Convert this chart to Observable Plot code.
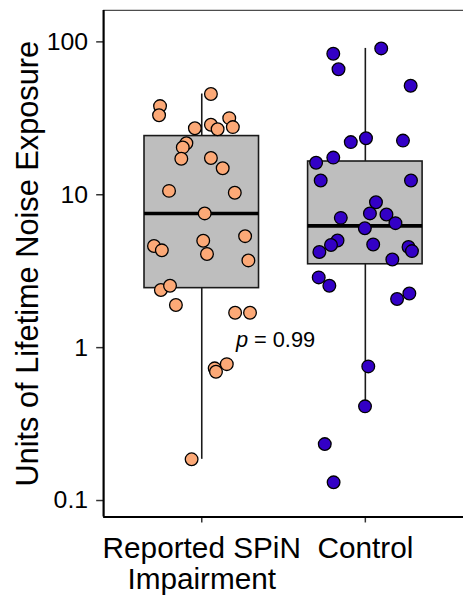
<!DOCTYPE html>
<html><head><meta charset="utf-8">
<script src="https://cdn.jsdelivr.net/npm/d3@7"></script>
<script src="https://cdn.jsdelivr.net/npm/@observablehq/plot@0.6"></script>
<style>
html,body{margin:0;padding:0;background:#fff;overflow:hidden;width:463px;height:597px}
#chart svg{display:block;font-family:"Liberation Sans",Arial,sans-serif;overflow:visible}
g[aria-label="y-axis label"]{font-size:31px}
</style></head><body><div id="chart"></div>
<script>
// categories
const groups = ["Reported SPiN\nImpairment", "Control"];
const groupColors = ["#FCA977", "#3300C6"];

// individual values (jitter offset in category units, value)
const reportedValues = [45.6, 38.0, 33.1, 31.7, 27.7, 27.2, 28.7, 26.8, 21.7, 20.4, 17.2, 17.4, 14.9, 10.6, 10.3, 7.55,
  4.62, 4.33, 5.00, 4.10, 5.36, 3.72, 2.38, 2.54, 1.90, 1.69, 1.69, 0.732, 0.695, 0.780, 0.186];
const reportedJitter = [0.056, -0.255, -0.261, 0.168, 0.190, -0.042, 0.056, 0.097, -0.094, -0.116, -0.125, 0.056, 0.128, -0.200, 0.202, 0.018,
  -0.292, -0.244, 0.009, 0.032, 0.265, 0.285, -0.250, -0.194, -0.158, 0.204, 0.295, 0.079, 0.087, 0.153, -0.062];
const controlValues = [83.6, 66.2, 90.6, 51.6, 22.1, 23.4, 22.6, 16.2, 17.5, 12.4, 12.4, 8.93, 7.06, 7.55, 7.43, 6.52,
  6.04, 5.02, 4.69, 4.22, 4.73, 4.55, 4.28, 3.77, 2.88, 2.54, 2.26, 2.08, 0.754, 0.413, 0.234, 0.1315];
const controlJitter = [-0.196, -0.164, 0.097, 0.277, -0.089, 0.004, 0.230, -0.301, -0.196, -0.273, 0.279, 0.065, -0.150, 0.028, 0.129, 0.184,
  -0.003, -0.170, -0.210, -0.281, 0.048, 0.264, 0.285, 0.165, -0.285, -0.220, 0.269, 0.194, 0.018, -0.002, -0.248, -0.194];

// box statistics per group
const boxLower = [0.186, 0.413];
const boxQ1 = [2.45, 3.51];
const boxMedian = [7.55, 6.26];
const boxQ3 = [24.2, 16.5];
const boxUpper = [45.6, 90.6];

// axis
const yTicks = [0.1, 1, 10, 100];
const yDomain = [0.078, 160.6];
const xDomain = [0.4, 2.6];
const yTitle = "Units of Lifetime Noise Exposure";
const pAnnotation = [{x: 1.21, y: 1.13, p: "p", rest: "= 0.99"}];

const points = [
  ...reportedValues.map((v, i) => ({g: 0, x: 1 + reportedJitter[i], v})),
  ...controlValues.map((v, i) => ({g: 1, x: 2 + controlJitter[i], v}))
];
const boxes = groups.map((name, i) => ({i: i + 1, name, lo: boxLower[i], q1: boxQ1[i], med: boxMedian[i], q3: boxQ3[i], hi: boxUpper[i]}));
const halfW = 0.35;

const chart = Plot.plot({
  width: 467, height: 597,
  marginLeft: 104, marginRight: 0, marginTop: 10, marginBottom: 76,
  style: {background: "#fff", fontFamily: "Liberation Sans, Arial, sans-serif", color: "#000"},
  x: {type: "linear", domain: xDomain},
  y: {type: "log", domain: yDomain},
  marks: [
    Plot.ruleY([yDomain[1]], {stroke: "#4d4d4d", strokeWidth: 1.3}),
    Plot.rect(boxes, {x1: d => d.i - halfW, x2: d => d.i + halfW, y1: "q1", y2: "q3", fill: "#bebebe", stroke: "#1a1a1a", strokeWidth: 1.6}),
    Plot.ruleX(boxes, {x: "i", y1: "q3", y2: "hi", stroke: "#1a1a1a", strokeWidth: 1.6}),
    Plot.ruleX(boxes, {x: "i", y1: "lo", y2: "q1", stroke: "#1a1a1a", strokeWidth: 1.6}),
    Plot.ruleY(boxes, {y: "med", x1: d => d.i - halfW, x2: d => d.i + halfW, stroke: "#000", strokeWidth: 3.6}),
    Plot.dot(points, {x: "x", y: "v", r: 6.4, fill: d => groupColors[d.g], stroke: "#000", strokeWidth: 1.3}),
    Plot.axisY({ticks: yTicks, tickFormat: d => String(d), tickSize: 7, tickPadding: 8.7, fontSize: 25, stroke: "#333", strokeWidth: 1.5,
      label: yTitle, labelAnchor: "center", labelArrow: "none", labelOffset: 88}),
    Plot.axisX({ticks: [1, 2], tickFormat: () => "", tickSize: 6, stroke: "#333", strokeWidth: 1.5, label: null}),
    Plot.text(boxes, {x: "i", text: "name", frameAnchor: "bottom", textAnchor: "middle", lineAnchor: "top", dy: 19.5, fontSize: 30, lineHeight: 1.04, fill: "#000"}),
    Plot.ruleX([xDomain[0]], {stroke: "#000", strokeWidth: 2.2}),
    Plot.ruleY([yDomain[0]], {stroke: "#000", strokeWidth: 2.2}),
    Plot.text(pAnnotation, {x: "x", y: "y", text: "p", textAnchor: "start", lineAnchor: "middle", fontSize: 22, fontStyle: "italic", fill: "#000"}),
    Plot.text(pAnnotation, {x: "x", y: "y", text: "rest", textAnchor: "start", lineAnchor: "middle", dx: 18, fontSize: 22, fill: "#000"})
  ]
});
document.getElementById("chart").appendChild(chart);
</script></body></html>
